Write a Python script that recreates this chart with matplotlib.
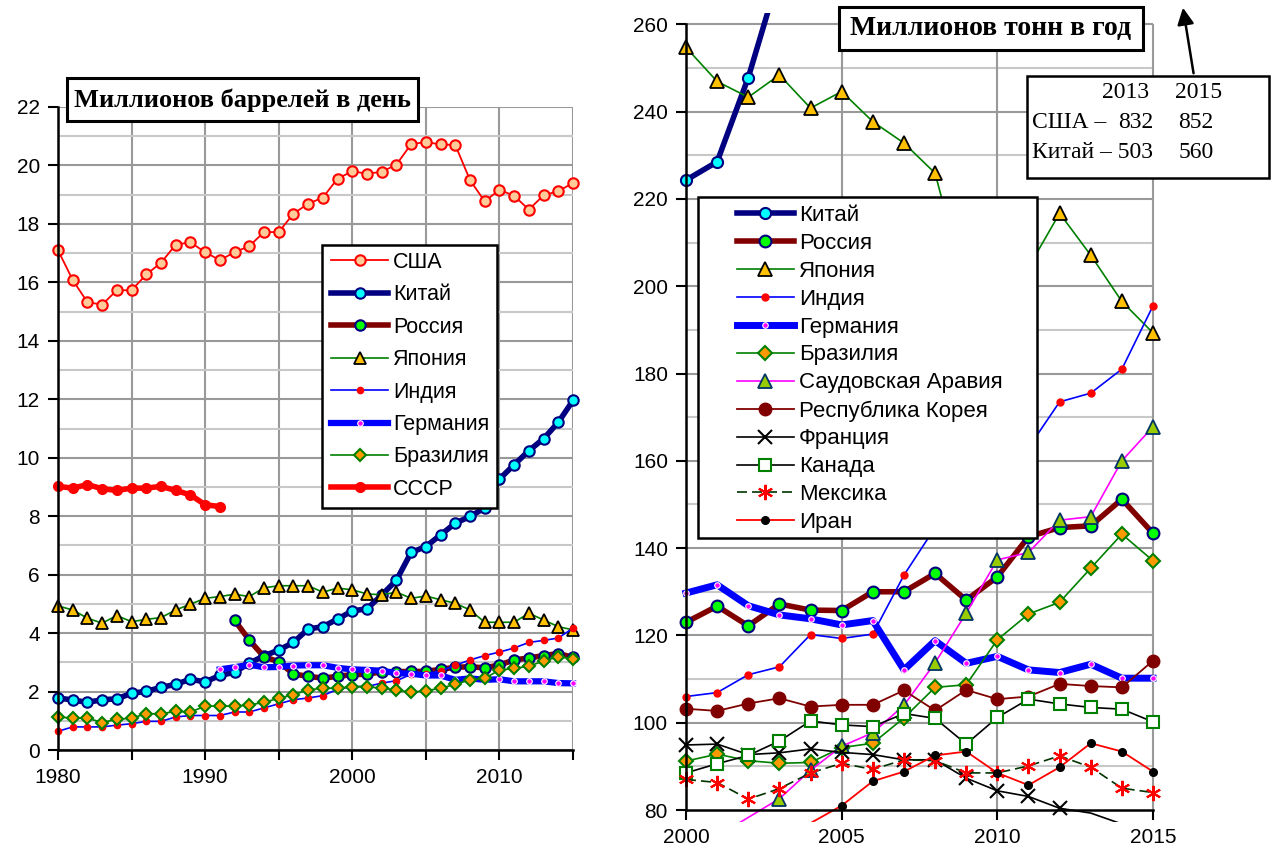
import matplotlib.pyplot as plt
from matplotlib.patches import Rectangle, FancyArrowPatch
from matplotlib.ticker import MultipleLocator
import numpy as np

plt.rcParams['font.family'] = ['Liberation Sans', 'DejaVu Sans']

W, H = 1275, 848

# --- левый график: млн баррелей в день, 1980-2015
years_l = np.arange(1980, 2016)
usa = [17.1, 16.08, 15.32, 15.24, 15.73, 15.73, 16.27, 16.67, 17.29, 17.37, 17.03, 16.76,
       17.03, 17.24, 17.72, 17.72, 18.35, 18.69, 18.9, 19.55, 19.8, 19.72, 19.78, 20.03,
       20.73, 20.8, 20.72, 20.7, 19.5, 18.77, 19.17, 18.96, 18.49, 18.98, 19.12, 19.4]
china_l = [1.78, 1.71, 1.63, 1.72, 1.75, 1.94, 2.01, 2.14, 2.25, 2.42, 2.33, 2.55,
           2.66, 2.97, 3.22, 3.42, 3.68, 4.14, 4.22, 4.48, 4.76, 4.83, 5.3, 5.81,
           6.76, 6.96, 7.36, 7.76, 7.99, 8.28, 9.27, 9.76, 10.24, 10.65, 11.21, 11.96]
years_ru = np.arange(1992, 2016)
russia_l = [4.44, 3.76, 3.19, 3.02, 2.6, 2.52, 2.46, 2.52, 2.58, 2.59, 2.68, 2.68,
            2.69, 2.69, 2.76, 2.83, 2.85, 2.81, 2.91, 3.08, 3.15, 3.23, 3.3, 3.17]
japan_l = [4.93, 4.79, 4.51, 4.34, 4.6, 4.39, 4.47, 4.53, 4.79, 4.99, 5.19, 5.25,
           5.33, 5.25, 5.55, 5.62, 5.62, 5.62, 5.4, 5.54, 5.48, 5.34, 5.31, 5.4,
           5.19, 5.27, 5.14, 5.02, 4.79, 4.37, 4.37, 4.37, 4.68, 4.45, 4.22, 4.11]
india_l = [0.64, 0.79, 0.79, 0.79, 0.85, 0.9, 0.98, 0.98, 1.13, 1.18, 1.18, 1.18,
           1.3, 1.3, 1.44, 1.58, 1.72, 1.78, 1.86, 2.08, 2.17, 2.17, 2.29, 2.37,
           2.59, 2.61, 2.7, 2.9, 3.08, 3.23, 3.35, 3.49, 3.68, 3.75, 3.83, 4.17]
years_de = np.arange(1991, 2016)
germany_l = [2.76, 2.83, 2.92, 2.83, 2.84, 2.89, 2.9, 2.9, 2.81, 2.76, 2.74, 2.71,
             2.63, 2.61, 2.55, 2.55, 2.4, 2.45, 2.4, 2.42, 2.35, 2.35, 2.35, 2.29, 2.28]
brazil_l = [1.13, 1.09, 1.09, 0.94, 1.05, 1.09, 1.24, 1.24, 1.32, 1.3, 1.5, 1.5,
            1.5, 1.54, 1.63, 1.77, 1.89, 2.06, 2.11, 2.11, 2.17, 2.17, 2.11, 2.06,
            1.97, 2.03, 2.11, 2.25, 2.4, 2.45, 2.74, 2.79, 2.87, 3.04, 3.19, 3.12]
years_su = np.arange(1980, 1992)
ussr = [9.02, 8.96, 9.08, 8.94, 8.88, 8.96, 8.96, 9.02, 8.88, 8.73, 8.39, 8.33]

# --- правый график: млн тонн в год, 2000-2015
years_r = np.arange(2000, 2016)
china_r = [224.3, 228.5, 247.8, 271.7, 318.9, 327.8, 351.2, 369.3, 376.0, 392.2, 447.0,
           464.2, 484.6, 503.0, 520.3, 560.0]
russia_r = [123.0, 126.7, 122.2, 127.2, 125.8, 125.7, 130.0, 130.0, 134.2, 128.1, 133.4,
            142.6, 144.7, 145.1, 151.2, 143.4]
japan_r = [254.7, 246.9, 243.3, 248.4, 240.8, 244.6, 237.7, 232.8, 225.9, 199.0, 202.0,
           204.3, 216.7, 207.1, 196.5, 189.3]
india_r = [106.0, 106.9, 111.0, 112.8, 120.2, 119.3, 120.3, 133.8, 144.7, 152.6, 155.4,
           163.0, 173.5, 175.5, 181.0, 195.5]
germany_r = [129.7, 131.6, 126.8, 124.7, 123.8, 122.4, 123.4, 112.1, 118.8, 113.6, 115.2,
             112.1, 111.5, 113.4, 110.2, 110.2]
brazil_r = [91.2, 92.8, 91.3, 90.7, 90.9, 94.3, 95.3, 101.1, 108.1, 108.7, 119.0,
            124.9, 127.6, 135.4, 143.2, 137.1]
saudi_r = [72.0, 74.0, 78.3, 82.6, 89.1, 94.6, 97.7, 104.0, 113.7, 125.1, 137.3,
           139.0, 146.4, 147.2, 160.0, 167.8]
korea_r = [103.2, 102.7, 104.4, 105.6, 103.7, 104.1, 104.1, 107.4, 102.8, 107.5, 105.4,
           106.0, 108.9, 108.4, 108.1, 114.2]
france_r = [94.9, 95.1, 92.7, 93.1, 94.0, 93.2, 92.7, 91.5, 91.5, 87.3, 84.4,
            83.1, 80.4, 79.3, 76.8, 76.1]
canada_r = [88.5, 90.6, 92.5, 95.8, 100.4, 99.5, 99.1, 102.1, 101.0, 95.1, 101.2,
            105.4, 104.3, 103.5, 103.1, 100.2]
mexico_r = [87.0, 86.3, 82.5, 84.9, 88.5, 90.7, 89.3, 91.5, 91.3, 88.5, 88.5,
            90.1, 92.4, 89.8, 85.0, 84.0]
iran_r = [65.0, 67.0, 71.0, 74.0, 77.0, 81.0, 86.6, 88.8, 92.5, 93.4, 88.5,
          85.7, 89.8, 95.3, 93.4, 88.8]

labels_l = ['США', 'Китай', 'Россия', 'Япония', 'Индия', 'Германия', 'Бразилия', 'СССР']
labels_r = ['Китай', 'Россия', 'Япония', 'Индия', 'Германия', 'Бразилия',
            'Саудовская Аравия', 'Республика Корея', 'Франция', 'Канада', 'Мексика', 'Иран']

fig = plt.figure(figsize=(W / 100, H / 100), dpi=100)


def px_axes(x0, y0, x1, y1):
    return fig.add_axes([x0 / W, 1 - y1 / H, (x1 - x0) / W, (y1 - y0) / H])


def px_box(x0, y0, x1, y1, lw=2.0, z=10):
    r = Rectangle((x0 / W, 1 - y1 / H), (x1 - x0) / W, (y1 - y0) / H,
                  transform=fig.transFigure, facecolor='white', edgecolor='black',
                  lw=lw, zorder=z)
    fig.add_artist(r)


def inside(vals, lo=80, hi=260):
    # маркеры только внутри шкалы, как в Excel
    return [lo <= v <= hi for v in vals]


MAJ = '#999999'
MIN = '#c8c8c8'

# ================= левый график =================
ax1 = px_axes(58, 107, 573, 750)
ax1.set_xlim(1980, 2015)
ax1.set_ylim(0, 22)
ax1.yaxis.set_major_locator(MultipleLocator(2))
ax1.yaxis.set_minor_locator(MultipleLocator(1))
ax1.set_xticks(np.arange(1980, 2016, 5))
ax1.set_xticklabels(['1980', '', '1990', '', '2000', '', '2010', ''])
ax1.grid(True, which='major', color=MAJ, lw=1.5)
ax1.grid(True, which='minor', axis='y', color=MIN, lw=1.5)
ax1.set_axisbelow(True)
for s in ['top', 'right']:
    ax1.spines[s].set_visible(False)
for s in ['left', 'bottom']:
    ax1.spines[s].set_linewidth(1.8)
ax1.tick_params(which='major', direction='out', length=7, width=1.5, labelsize=15, pad=6)
ax1.tick_params(which='minor', length=0)

h_l = []
h_l += ax1.plot(years_l, usa, color='red', lw=1.3, marker='o', ms=7.5, mfc='#FFCC99',
                mec='red', mew=1.5, clip_on=False)
h_l += ax1.plot(years_l, china_l, color='#000080', lw=4, marker='o', ms=7.5, mfc='#00FFFF',
                mec='#000080', mew=1.5, clip_on=False)
h_l += ax1.plot(years_ru, russia_l, color='#800000', lw=4, marker='o', ms=7.5, mfc='#00FF00',
                mec='#000080', mew=1.5, clip_on=False)
h_l += ax1.plot(years_l, japan_l, color='#008000', lw=1.2, marker='^', ms=9, mfc='#FFC000',
                mec='black', mew=1.3, clip_on=False)
h_l += ax1.plot(years_l, india_l, color='#0000FF', lw=1.2, marker='o', ms=4.5, mfc='red',
                mec='red', clip_on=False)
h_l += ax1.plot(years_de, germany_l, color='#0000FF', lw=4.5, marker='o', ms=4, mfc='#FF00FF',
                mec='white', mew=0.8, clip_on=False)
h_l += ax1.plot(years_l, brazil_l, color='#008000', lw=1.2, marker='D', ms=6.5, mfc='#FF9900',
                mec='#008000', mew=1.5, clip_on=False)
h_l += ax1.plot(years_su, ussr, color='red', lw=4, marker='o', ms=7, mfc='red',
                mec='red', clip_on=False)

# ================= правый график =================
ax2 = px_axes(673.55, 12.95, 1165.45, 821.8)
ax2.set_xlim(1999.6, 2015.4)
ax2.set_ylim(77.3, 262.6)
ax2.set_xticks([2000, 2005, 2010, 2015])
ax2.set_yticks(np.arange(80, 261, 20))
ax2.spines['left'].set_position(('data', 2000))
ax2.spines['bottom'].set_position(('data', 80))
ax2.spines['left'].set_bounds(80, 260)
ax2.spines['bottom'].set_bounds(2000, 2015)
for s in ['top', 'right']:
    ax2.spines[s].set_visible(False)
for s in ['left', 'bottom']:
    ax2.spines[s].set_linewidth(1.8)
ax2.tick_params(direction='out', length=7, width=1.5, labelsize=15, pad=6)
for v in np.arange(90, 261, 10):
    ax2.hlines(v, 2000, 2015, color=MAJ if v % 20 == 0 else MIN, lw=1.5, zorder=0.5)
for v in [2005, 2010, 2015]:
    ax2.vlines(v, 80, 260, color=MAJ, lw=1.5, zorder=0.5)

h_r = []
h_r += ax2.plot(years_r, china_r, color='#000080', lw=4, marker='o', ms=8, mfc='#00FFFF',
                mec='#000080', mew=1.5, markevery=inside(china_r))
h_r += ax2.plot(years_r, russia_r, color='#800000', lw=4, marker='o', ms=8.5, mfc='#00FF00',
                mec='#000080', mew=1.5)
h_r += ax2.plot(years_r, japan_r, color='#008000', lw=1.2, marker='^', ms=10, mfc='#FFC000',
                mec='black', mew=1.3)
h_r += ax2.plot(years_r, india_r, color='#0000FF', lw=1.2, marker='o', ms=5, mfc='red',
                mec='red')
h_r += ax2.plot(years_r, germany_r, color='#0000FF', lw=5, marker='o', ms=4, mfc='#FF00FF',
                mec='white', mew=0.8)
h_r += ax2.plot(years_r, brazil_r, color='#008000', lw=1.2, marker='D', ms=7, mfc='#FF9900',
                mec='#008000', mew=1.5)
h_r += ax2.plot(years_r, saudi_r, color='#FF00FF', lw=1.2, marker='^', ms=9.5, mfc='#99CC00',
                mec='#003366', mew=1.3, markevery=inside(saudi_r))
h_r += ax2.plot(years_r, korea_r, color='#800000', lw=1.3, marker='o', ms=9, mfc='#800000',
                mec='#800000')
h_r += ax2.plot(years_r, france_r, color='black', lw=1.2, marker='x', ms=10, mec='black',
                mew=1.5, markevery=inside(france_r))
h_r += ax2.plot(years_r, canada_r, color='black', lw=1.2, marker='s', ms=8.5, mfc='white',
                mec='#008000', mew=1.5)
h_r += ax2.plot(years_r, mexico_r, color='#003300', lw=1.2, ls=(0, (6, 3)), marker=(6, 2, 0),
                ms=11, mec='red', mew=1.5)
h_r += ax2.plot(years_r, iran_r, color='red', lw=1.3, marker='o', ms=5.5, mfc='black',
                mec='black', markevery=inside(iran_r))

# ================= рамки, заголовки, легенды =================
serif = ['Liberation Serif', 'DejaVu Serif']

px_box(67, 78, 418, 121, lw=2.2)
fig.text(242.5 / W, 1 - 100 / H, 'Миллионов баррелей в день', ha='center', va='center',
         family=serif, weight='bold', fontsize=19, zorder=11)

px_box(839, 7, 1143, 50, lw=2.2)
fig.text(991 / W, 1 - 29 / H, 'Миллионов тонн в год', ha='center', va='center',
         family=serif, weight='bold', fontsize=20, zorder=11)

px_box(322, 245, 497, 508, lw=1.8)
leg1 = fig.legend(h_l, labels_l, loc='upper left', bbox_to_anchor=(331 / W, 1 - 252 / H),
                  frameon=False, fontsize=15.5, handlelength=2.65, handletextpad=0.22,
                  labelspacing=0.53, borderpad=0, borderaxespad=0)
leg1.set_zorder(11)

px_box(698, 197, 1037, 538, lw=1.8)
leg2 = fig.legend(h_r, labels_r, loc='upper left', bbox_to_anchor=(737 / W, 1 - 205 / H),
                  frameon=False, fontsize=16, handlelength=2.55, handletextpad=0.25,
                  labelspacing=0.31, borderpad=0, borderaxespad=0)
leg2.set_zorder(11)

# справка по США и Китаю
px_box(1027, 76, 1269, 178, lw=1.8)
rows = [(93, '', '2013', '2015'), (123, 'США –', '832', '852'), (152, 'Китай – 503', '', '560')]
for y, a, b, c in rows:
    if a:
        fig.text(1032 / W, 1 - y / H, a, ha='left', va='center', family=serif,
                 fontsize=17, zorder=11)
    if b:
        fig.text((1126 if b == '2013' else 1136) / W, 1 - y / H, b, ha='center', va='center',
                 family=serif, fontsize=17, zorder=11)
    fig.text((1199 if c == '2015' else 1196) / W, 1 - y / H, c, ha='center', va='center',
             family=serif, fontsize=17, zorder=11)

arr = FancyArrowPatch((1194 / W, 1 - 76 / H), (1182.5 / W, 1 - 5 / H),
                      transform=fig.transFigure, arrowstyle='-|>', mutation_scale=25,
                      color='black', lw=1.8, zorder=11)
fig.add_artist(arr)

fig.savefig('out.png', dpi=100)
